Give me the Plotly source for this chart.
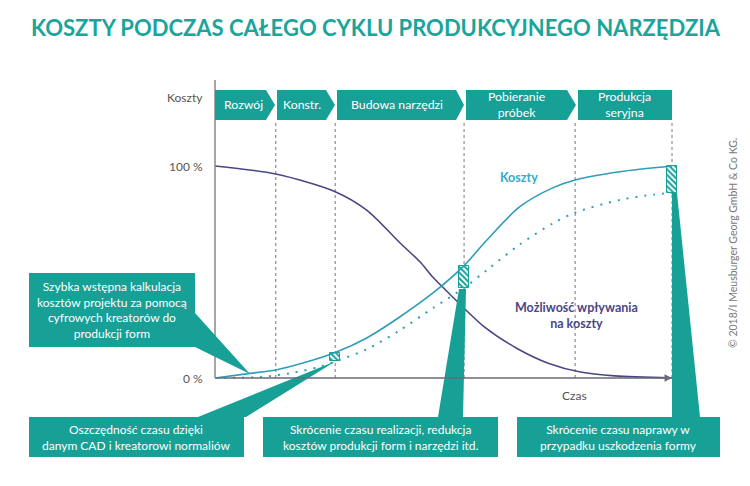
import plotly.graph_objects as go

W, H = 750, 486

# ---------------- data ----------------
TITLE = "KOSZTY PODCZAS CAŁEGO CYKLU PRODUKCYJNEGO NARZĘDZIA"
PHASES = ["Rozwój", "Konstr.", "Budowa narzędzi", "Pobieranie<br>próbek", "Produkcja<br>seryjna"]
PHASE_END = [13.3, 26.3, 54.5, 78.8, 100.0]          # time (0..100)

COST_T = [0, 7.7, 13.3, 20, 26.3, 33.2, 40.5, 47.7, 54.5, 59.5, 66.7, 74, 78.8, 88.6, 100]
COST_V = [0, 2.2, 3.8, 7.5, 12.0, 18.9, 28.9, 40.1, 53.0, 65.1, 80.8, 89.8, 93.4, 97.3, 100]

COST_OPT_T = [0, 10, 16.4, 22.9, 26.3, 33.2, 40.5, 47.7, 54.5, 59.5, 66.7, 74, 78.8, 88.6, 96, 100]
COST_OPT_V = [0, 0.5, 2.2, 5.3, 7.8, 13.5, 22.6, 33.0, 42.5, 50.9, 63.0, 73.0, 78.0, 84.0, 86.5, 87.3]

INFL_T = [0, 13.3, 26.3, 33.2, 40.5, 44.9, 47.7, 51.4, 59, 66.3, 72.9, 80, 87.5, 100]
INFL_V = [100, 96.2, 87.9, 79.2, 63.7, 54.7, 47.5, 39.5, 24, 13.7, 7, 2.8, 1.0, 0]

SAVING_T = [26.3, 54.5, 100.0]
SAVING_HI = [12.0, 53.0, 100.0]
SAVING_LO = [7.8, 42.5, 87.3]

Y_TICKS = [100, 0]
Y_TICK_TEXT = ["100 %", "0 %"]

CALLOUTS = [
    "Szybka wstępna kalkulacja<br>kosztów projektu za pomocą<br>cyfrowych kreatorów do<br>produkcji form",
    "Oszczędność czasu dzięki<br>danym CAD i kreatorowi normaliów",
    "Skrócenie czasu realizacji, redukcja<br>kosztów produkcji form i narzędzi itd.",
    "Skrócenie czasu naprawy w<br>przypadku uszkodzenia formy",
]
COPYRIGHT = "© 2018/I Meusburger Georg GmbH & Co KG."

# ---------------- styles / layout geometry ----------------
TEAL = "#16A096"
TITLE_C = "#1AA59C"
LINE_C = "#2E9DB8"
LABEL_C = "#36AACB"
PURPLE = "#4A4785"
GRAY = "#555555"
FONT = "Lato"

X0_PX, X100_PX = 215, 672
Y0_PX, Y100_PX = 378, 166
sx = (X100_PX - X0_PX) / 100.0
sy = (Y0_PX - Y100_PX) / 100.0
XR = [(0 - X0_PX) / sx, (W - X0_PX) / sx]
YR = [(Y0_PX - H) / sy, Y0_PX / sy]


def px(x):
    return x / W


def py(y):
    return 1 - y / H


def ydat(y_px):
    return (Y0_PX - y_px) / sy


fig = go.Figure()

# curves
fig.add_trace(go.Scatter(x=INFL_T, y=INFL_V, mode="lines",
                         line=dict(color=PURPLE, width=1.6, shape="spline", smoothing=0.8),
                         hoverinfo="skip", showlegend=False))
fig.add_trace(go.Scatter(x=COST_OPT_T, y=COST_OPT_V, mode="lines",
                         line=dict(color=LINE_C, width=2, dash="2px,7px", shape="spline", smoothing=0.8),
                         hoverinfo="skip", showlegend=False))
fig.add_trace(go.Scatter(x=COST_T, y=COST_V, mode="lines",
                         line=dict(color=LINE_C, width=1.6, shape="spline", smoothing=0.8),
                         hoverinfo="skip", showlegend=False))

# hatched saving boxes
fig.add_trace(go.Bar(x=SAVING_T, y=[h - l for h, l in zip(SAVING_HI, SAVING_LO)], base=SAVING_LO,
                     width=2.1,
                     marker=dict(color="white", line=dict(color=TEAL, width=1),
                                 pattern=dict(shape="\\", fgcolor=TEAL, bgcolor="white",
                                              size=4, solidity=0.5, fillmode="replace")),
                     hoverinfo="skip", showlegend=False))

shapes = []
annotations = []

# phase boundary dotted lines
for t in PHASE_END:
    shapes.append(dict(type="line", xref="x", yref="y", x0=t, x1=t, y0=0, y1=ydat(120),
                       line=dict(color="#777777", width=1, dash="dot"), layer="below"))

# y axis line
shapes.append(dict(type="line", xref="paper", yref="paper", x0=px(X0_PX), x1=px(X0_PX),
                   y0=py(80), y1=py(Y0_PX), line=dict(color="#8A8A8A", width=1.5)))
# x axis arrow
annotations.append(dict(xref="x", yref="y", x=100, y=0, ax=0, ay=0, axref="x", ayref="y",
                        showarrow=True, arrowhead=2, arrowsize=1, arrowwidth=1.5,
                        arrowcolor="#6A6A7A", text=""))

# phase banner chevrons
BANNER = [(215, 266, 275), (277, 326, 335), (337, 456, 464), (466, 567, 576), (578, 672, None)]
BANNER_TXT_X = [243, 302, 397, 517, 624]
bt, bb = 90, 120
for (l, r, tip), name, cx in zip(BANNER, PHASES, BANNER_TXT_X):
    if tip is None:
        path = f"M{px(l)},{py(bt)} L{px(r)},{py(bt)} L{px(r)},{py(bb)} L{px(l)},{py(bb)} Z"
    else:
        path = (f"M{px(l)},{py(bt)} L{px(r)},{py(bt)} L{px(tip)},{py((bt + bb) / 2)} "
                f"L{px(r)},{py(bb)} L{px(l)},{py(bb)} Z")
    shapes.append(dict(type="path", xref="paper", yref="paper", path=path,
                       fillcolor=TEAL, line=dict(width=0)))
    annotations.append(dict(xref="paper", yref="paper", x=px(cx), y=py(105), text=name,
                            showarrow=False, xanchor="center", yanchor="middle",
                            font=dict(family=FONT, size=12.3, color="white")))

# callout boxes and tails
BOXES = [(29, 195, 273, 347), (29, 244, 417, 457), (263, 498, 417, 457), (517, 720, 417, 457)]
TAILS = [
    [(195, 313), (250, 374), (195, 347)],
    [(198, 417), (336, 361), (246, 417)],
    [(438, 417), (459, 289), (466, 289), (463, 417)],
    [(672, 417), (672, 193), (677, 193), (700, 417)],
]
for (l, r, t, b), tail, txt in zip(BOXES, TAILS, CALLOUTS):
    shapes.append(dict(type="rect", xref="paper", yref="paper", x0=px(l), x1=px(r),
                       y0=py(t), y1=py(b), fillcolor=TEAL, line=dict(width=0)))
    path = "M" + " L".join(f"{px(a)},{py(c)}" for a, c in tail) + " Z"
    shapes.append(dict(type="path", xref="paper", yref="paper", path=path,
                       fillcolor=TEAL, line=dict(width=0)))
    annotations.append(dict(xref="paper", yref="paper", x=px((l + r) / 2), y=py((t + b) / 2), text=txt,
                            showarrow=False, xanchor="center", yanchor="middle",
                            font=dict(family=FONT, size=12, color="white")))

# title
annotations.append(dict(xref="paper", yref="paper", x=px(376), y=py(28), text="<b>" + TITLE + "</b>",
                        showarrow=False, xanchor="center", yanchor="middle",
                        font=dict(family=FONT, size=22, color=TITLE_C)))
# axis labels
annotations.append(dict(xref="paper", yref="paper", x=px(185), y=py(97), text="Koszty",
                        showarrow=False, xanchor="center", yanchor="middle",
                        font=dict(family=FONT, size=12, color=GRAY)))
for v, txt in zip(Y_TICKS, Y_TICK_TEXT):
    annotations.append(dict(xref="paper", yref="y", x=px(205), y=v, text=txt,
                            showarrow=False, xanchor="right", yanchor="middle",
                            font=dict(family=FONT, size=12, color=GRAY)))
annotations.append(dict(xref="paper", yref="paper", x=px(574), y=py(395), text="Czas",
                        showarrow=False, xanchor="center", yanchor="middle",
                        font=dict(family=FONT, size=12, color=GRAY)))
# curve labels
annotations.append(dict(xref="paper", yref="paper", x=px(519), y=py(177), text="<b>Koszty</b>",
                        showarrow=False, xanchor="center", yanchor="middle",
                        font=dict(family=FONT, size=12.5, color=LABEL_C)))
annotations.append(dict(xref="paper", yref="paper", x=px(576), y=py(315),
                        text="<b>Możliwość wpływania<br>na koszty</b>",
                        showarrow=False, xanchor="center", yanchor="middle",
                        font=dict(family=FONT, size=12.5, color=PURPLE)))
# copyright
annotations.append(dict(xref="paper", yref="paper", x=px(733), y=py(243), text=COPYRIGHT,
                        showarrow=False, textangle=-90, xanchor="center", yanchor="middle",
                        font=dict(family=FONT, size=10.5, color="#777777")))

fig.update_layout(
    width=W, height=H, autosize=False,
    margin=dict(l=0, r=0, t=0, b=0, pad=0),
    paper_bgcolor="white", plot_bgcolor="white",
    xaxis=dict(range=XR, visible=False, showgrid=False, zeroline=False, fixedrange=True, domain=[0, 1]),
    yaxis=dict(range=YR, visible=False, showgrid=False, zeroline=False, fixedrange=True, domain=[0, 1]),
    shapes=shapes, annotations=annotations, showlegend=False, bargap=0,
)

fig.write_html("out.html", config={"displayModeBar": False},
               post_script="document.body.style.margin='0';document.body.style.overflow='hidden';")
